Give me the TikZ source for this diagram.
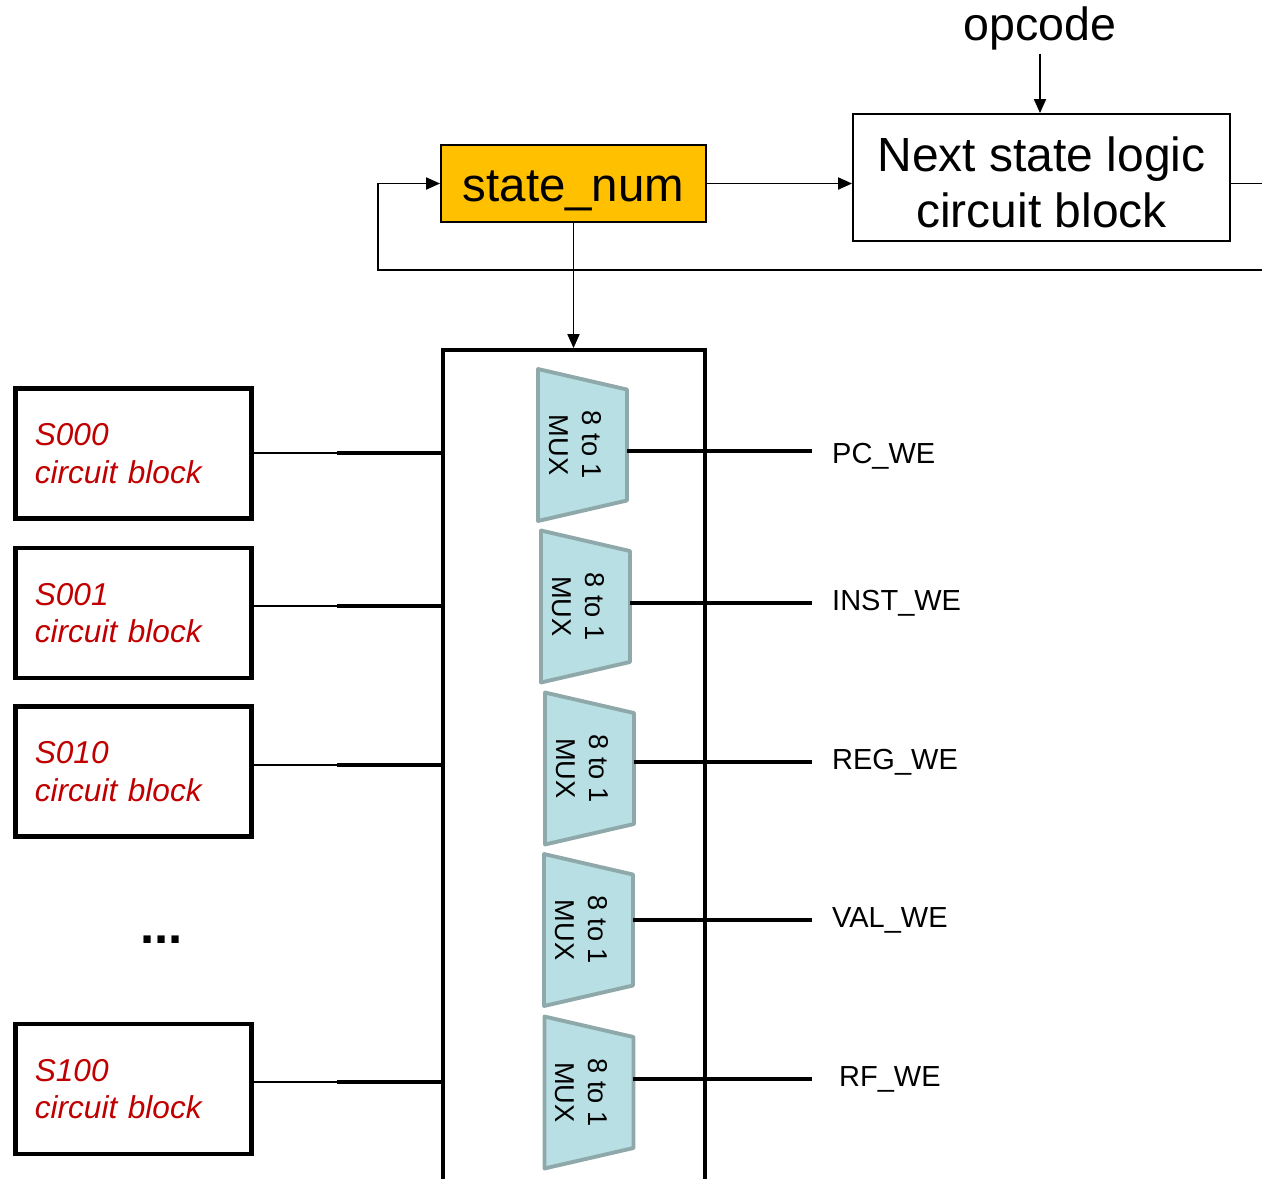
\documentclass[tikz,border=0pt]{standalone}
\usepackage{fontspec}
\setmainfont{Liberation Sans}
\usetikzlibrary{positioning,arrows.meta,backgrounds}
\definecolor{regorange}{HTML}{FFC000}
\definecolor{muxfill}{HTML}{B8DFE3}
\definecolor{muxdraw}{HTML}{8FA9AB}
\definecolor{blockred}{HTML}{C00000}

\begin{document}
\begin{tikzpicture}[
x=0.02cm, y=-0.02cm,
thinline/.style={line width=1.1pt},
thickline/.style={line width=2.8pt},
arrow/.style={-{Triangle[length=0.28cm, width=0.24cm]}, thinline},
reg/.style={rectangle, draw, thinline, fill=regorange, minimum width=5.3cm, minimum height=1.54cm, text height=26pt, font=\fontsize{27}{32}\selectfont},
logic/.style={rectangle, draw, thinline, align=center, minimum width=7.54cm, minimum height=2.54cm, text height=57pt, font=\fontsize{27.3}{32}\selectfont},
stateblk/.style={rectangle, draw, line width=2.6pt, minimum width=4.72cm, minimum height=2.6cm, text width=3.95cm, align=left, text=blockred, font=\fontsize{18}{21.5}\selectfont\itshape},
ctrlbox/.style={rectangle, draw, line width=2.3pt, minimum width=5.24cm, minimum height=18cm},
mux/.style={rectangle, rotate=-90, outer sep=0pt, minimum width=3.04cm, minimum height=1.78cm, text height=38pt, align=center, font=\fontsize{15.5}{18.7}\selectfont},
muxshape/.style={draw=muxdraw, fill=muxfill, line width=2.2pt, line join=round},
sig/.style={anchor=west, font=\fontsize{16.5}{20}\selectfont}
]
\useasboundingbox (0,0) rectangle (1262,1178);
\clip (0,0) rectangle (1262,1178);

% state register and next state logic
\node[reg] (state) at (573.5,183.5) {state\_num};
\node[logic] (next) at (1041.5,177.5) {Next state logic\\circuit block};
\node[inner sep=2pt, font=\fontsize{26.5}{30}\selectfont] (opcode) at (1040,28) {opcode};

\coordinate (loopr) at (1300,270);
\coordinate (loopl) at (378,270);

\draw[arrow] (opcode.south) -- (opcode.south |- next.north);
\draw[arrow] (state.east) -- (state.east -| next.west);
\draw[arrow] (next.east |- state.east) -| (loopr) -- (loopl) |- (state.west);

% output control block
\node[ctrlbox] (ctrl) at (574,800) {};
\draw[arrow] (state.south) -- (state.south |- ctrl.north);

% state circuit blocks
\node[stateblk] (s000) at (133.5,453.5) {S000\\circuit block};
\node[stateblk] (s001) at (133.5,613) {S001\\circuit block};
\node[stateblk] (s010) at (133.5,771.5) {S010\\circuit block};
\node[font=\fontsize{29}{30}\selectfont\bfseries] (dots) at (161.5,940) {...};
\node[stateblk] (s100) at (133.5,1089) {S100\\circuit block};

\coordinate (j000) at (337,453);
\coordinate (j001) at (337,606);
\coordinate (j010) at (337,765);
\coordinate (j100) at (337,1082);

\draw[thinline] (s000.east |- j000) -- (j000);
\draw[thinline] (s001.east |- j001) -- (j001);
\draw[thinline] (s010.east |- j010) -- (j010);
\draw[thinline] (s100.east |- j100) -- (j100);
\draw[thickline] (j000) -- (ctrl.west |- j000);
\draw[thickline] (j001) -- (ctrl.west |- j001);
\draw[thickline] (j010) -- (ctrl.west |- j010);
\draw[thickline] (j100) -- (ctrl.west |- j100);

% muxes and their outputs
\node[mux] (mux1) at (582.5,445) {8 to 1\\MUX};
\node[mux] (mux2) at (585.5,606.5) {8 to 1\\MUX};
\node[mux] (mux3) at (589.5,768.5) {8 to 1\\MUX};
\node[mux] (mux4) at (588.5,930) {8 to 1\\MUX};
\node[mux] (mux5) at (589,1092.5) {8 to 1\\MUX};

\begin{scope}[on background layer]
\foreach \m in {mux1,mux2,mux3,mux4,mux5}
  \draw[muxshape] (\m.south west) -- ([yshift=-0.41cm]\m.north west)
    -- ([yshift=0.41cm]\m.north east) -- (\m.south east) -- cycle;
\end{scope}

\coordinate (pcwe) at (812,451);
\coordinate (instwe) at (812,603);
\coordinate (regwe) at (812,762);
\coordinate (valwe) at (812,920);
\coordinate (rfwe) at (812,1079);

\draw[thickline] (mux1.north |- pcwe) -- (pcwe);
\draw[thickline] (mux2.north |- instwe) -- (instwe);
\draw[thickline] (mux3.north |- regwe) -- (regwe);
\draw[thickline] (mux4.north |- valwe) -- (valwe);
\draw[thickline] (mux5.north |- rfwe) -- (rfwe);

\node[sig, right=0.28cm of pcwe, yshift=-0.1cm] (pcwelbl) {PC\_WE};
\node[sig, right=0.28cm of instwe] (instwelbl) {INST\_WE};
\node[sig, right=0.28cm of regwe] (regwelbl) {REG\_WE};
\node[sig, right=0.28cm of valwe] (valwelbl) {VAL\_WE};
\node[sig, right=0.42cm of rfwe] (rfwelbl) {RF\_WE};

\end{tikzpicture}
\end{document}
